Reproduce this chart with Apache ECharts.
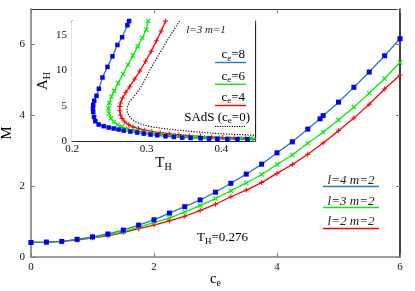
<!DOCTYPE html>
<html><head><meta charset="utf-8">
<script src="https://cdn.jsdelivr.net/npm/echarts@6/dist/echarts.min.js"></script>
<style>html,body{margin:0;padding:0;background:#fff}#c{width:415px;height:291px}</style>
</head><body><div id="c"></div>
<script>
// ---- main chart data: M vs c_e ----
const ceBlue = [0,0.25,0.5,0.75,1,1.25,1.5,1.75,2,2.25,2.5,2.75,3,3.25,3.5,3.75,4,4.25,4.5,4.7,4.75,5,5.25,5.5,5.75,6];
const mL4 = [0.41,0.42,0.44,0.50,0.57,0.65,0.76,0.90,1.05,1.24,1.42,1.61,1.83,2.08,2.34,2.62,2.94,3.25,3.61,3.90,3.99,4.37,4.79,5.22,5.68,6.16];
const ce = [0,0.25,0.5,0.75,1,1.25,1.5,1.75,2,2.25,2.5,2.75,3,3.25,3.5,3.75,4,4.25,4.5,4.75,5,5.25,5.5,5.75,6];
const mL3 = [0.41,0.42,0.44,0.49,0.55,0.62,0.71,0.84,0.97,1.10,1.27,1.45,1.65,1.87,2.09,2.33,2.61,2.88,3.21,3.52,3.87,4.23,4.62,5.04,5.49];
const mL2 = [0.41,0.42,0.44,0.48,0.54,0.60,0.69,0.80,0.90,1.02,1.15,1.31,1.49,1.70,1.89,2.10,2.36,2.61,2.90,3.22,3.56,3.92,4.31,4.74,5.14];
const mainTicksX = [0,2,4,6];
const mainTicksY = [0,2,4,6];

// ---- inset data: A_H vs T_H ----
const tB = [0.2764,0.2742,0.2671,0.2608,0.2542,0.2475,0.2408,0.2360,0.2328,0.2297,0.2284,0.2280,0.2284,0.2295,0.2313,0.2357,0.2424,0.2491,0.2558,0.2625,0.2692,0.2782,0.2872,0.2961,0.3051,0.3141,0.3252,0.3364,0.3476,0.3588,0.3722,0.3834,0.3946,0.4080,0.4215,0.4350,0.4460];
const aB = [17.0,16.4,14.7,13.6,12.0,10.5,9.0,7.4,6.4,5.7,5.1,4.6,4.1,3.4,2.8,2.34,2.10,1.91,1.77,1.63,1.48,1.34,1.20,1.05,0.91,0.81,0.67,0.57,0.48,0.43,0.38,0.33,0.30,0.28,0.26,0.25,0.24];
const tG = [0.3020,0.2995,0.2940,0.2880,0.2815,0.2750,0.2683,0.2617,0.2565,0.2528,0.2500,0.2488,0.2495,0.2520,0.2560,0.2610,0.2670,0.2750,0.2850,0.2960,0.3080,0.3220,0.3360,0.3500,0.3650,0.3800,0.3950,0.4100,0.4250,0.4400,0.4460];
const aG = [17.0,15.8,14.6,13.4,12.1,10.8,9.5,8.2,7.1,6.3,5.4,4.6,3.9,3.2,2.7,2.3,2.0,1.72,1.47,1.25,1.08,0.92,0.78,0.67,0.57,0.50,0.44,0.40,0.37,0.34,0.33];
const tR = [0.3253,0.3195,0.3130,0.3060,0.2985,0.2907,0.2840,0.2773,0.2720,0.2675,0.2650,0.2640,0.2640,0.2648,0.2670,0.2707,0.2760,0.2817,0.2890,0.2973,0.3070,0.3180,0.3300,0.3430,0.3570,0.3720,0.3870,0.4020,0.4170,0.4320,0.4460];
const aR = [17.0,15.6,14.2,12.7,11.3,9.9,8.8,7.7,6.9,6.1,5.4,4.9,4.3,3.7,3.2,2.7,2.3,2.0,1.75,1.53,1.35,1.18,1.03,0.88,0.76,0.66,0.57,0.50,0.45,0.41,0.38];
const tS = [0.3440,0.3350,0.3250,0.3150,0.3050,0.2973,0.2900,0.2830,0.2773,0.2740,0.2738,0.2760,0.2800,0.2860,0.2920,0.3000,0.3090,0.3200,0.3364,0.3520,0.3678,0.3850,0.4035,0.4250,0.4460];
const aS = [17.0,15.5,13.8,12.0,10.2,8.6,7.3,6.3,5.6,4.9,4.2,3.6,3.1,2.7,2.4,2.15,1.95,1.8,1.6,1.43,1.29,1.13,1.0,0.9,0.81];
const insetTicksX = [0.2,0.3,0.4];
const insetTicksY = [0,5,10,15];

const zip = (xs, ys) => xs.map((x, i) => [x, ys[i]]);
const SERIF = 'Liberation Serif';
const BLUE_LINE = '#2a7ab8', BLUE_MK = '#0000ff', GREEN = '#00ee00', RED = '#ff0000';
const PLUS = 'path://M0,4H10V6H0Z M4,0H6V10H4Z';

const chart = echarts.init(document.getElementById('c'), null, {renderer: 'canvas'});

function near(v, arr) { return arr.some(t => Math.abs(t - v) < 1e-6); }

const tickStyle = (color) => ({show: true, inside: true, length: 4, lineStyle: {color: color, width: 1}});
const subRich = (big, small) => ({
  a: {fontFamily: SERIF, fontSize: big, color: '#000'},
  b: {fontFamily: SERIF, fontSize: small, color: '#000', padding: [Math.round(big*0.55), 0, 0, 0]}
});

function lineSeries(name, data, xi, lineColor, mkColor, symbol, size, rotate) {
  return {
    type: 'line', name, data, xAxisIndex: xi, yAxisIndex: xi,
    symbol, symbolSize: size, symbolRotate: rotate || 0, showSymbol: true, showAllSymbol: true,
    lineStyle: {color: lineColor, width: 1.3}, itemStyle: {color: mkColor, borderWidth: 0},
    animation: false, silent: true, z: 3
  };
}
const line0 = (color, width) => ({show: true, onZero: false, lineStyle: {color, width}});

const option = {
  animation: false,
  backgroundColor: '#fff',
  grid: [
    {left: 31, right: 15, top: 9, bottom: 34, show: false, outerBoundsMode: 'none', containLabel: false},
    {left: 72, right: 160, top: 21, bottom: 150, show: true, backgroundColor: '#fff', borderWidth: 0, z: 1, outerBoundsMode: 'none', containLabel: false}
  ],
  xAxis: [
    {type: 'value', gridIndex: 0, position: 'bottom', min: 0, max: 6, interval: 2,
     axisLine: line0('#808080', 1.6), axisTick: tickStyle('#808080'),
     splitLine: {show: false},
     axisLabel: {fontFamily: SERIF, fontSize: 11, color: '#111', margin: 5, formatter: v => near(v, mainTicksX) ? String(v) : ''},
     name: '{a|c}{b|e}', nameLocation: 'middle', nameGap: 13, nameMoveOverlap: false,
     nameTextStyle: {fontFamily: SERIF, fontSize: 15, rich: subRich(15, 10)}},
    {type: 'value', gridIndex: 0, position: 'top', min: 0, max: 6, interval: 2,
     axisLine: line0('#333', 1.2), axisTick: tickStyle('#808080'),
     splitLine: {show: false}, axisLabel: {show: false}},
    {type: 'value', gridIndex: 1, position: 'bottom', min: 0.2, max: 0.445, interval: 0.1,
     axisLine: line0('#222', 1.2), axisTick: tickStyle('#444'),
     splitLine: {show: false},
     axisLabel: {fontFamily: SERIF, fontSize: 11, color: '#111', margin: 3, showMaxLabel: false,
                 formatter: v => near(v, insetTicksX) ? v.toFixed(1) : ''},
     name: '{a|T}{b|H}', nameLocation: 'middle', nameGap: 12,
     nameTextStyle: {fontFamily: SERIF, fontSize: 15, rich: subRich(15, 10)}},
    {type: 'value', gridIndex: 1, position: 'top', min: 0.2, max: 0.445, interval: 0.1,
     axisLine: line0('#222', 1.2), axisTick: tickStyle('#444'),
     splitLine: {show: false}, axisLabel: {show: false}}
  ],
  yAxis: [
    {type: 'value', gridIndex: 0, position: 'left', min: 0, max: 7, interval: 2,
     axisLine: line0('#808080', 1.6), axisTick: tickStyle('#808080'),
     splitLine: {show: false},
     axisLabel: {fontFamily: SERIF, fontSize: 11, color: '#111', margin: 6, showMaxLabel: false,
                 formatter: v => near(v, mainTicksY) ? String(v) : ''},
     name: 'M', nameLocation: 'middle', nameGap: 16, nameMoveOverlap: false,
     nameTextStyle: {fontFamily: SERIF, fontSize: 15, color: '#000'}},
    {type: 'value', gridIndex: 0, position: 'right', min: 0, max: 7, interval: 2,
     axisLine: line0('#111', 1.6), axisTick: tickStyle('#808080'),
     splitLine: {show: false}, axisLabel: {show: false}},
    {type: 'value', gridIndex: 1, position: 'left', min: 0, max: 17, interval: 5,
     axisLine: line0('#777', 1.4), axisTick: tickStyle('#444'),
     splitLine: {show: false},
     axisLabel: {fontFamily: SERIF, fontSize: 11, color: '#111', margin: 5, showMaxLabel: false,
                 formatter: v => near(v, insetTicksY) ? String(v) : ''},
     name: '{a|A}{b|H}', nameLocation: 'middle', nameGap: 20,
     nameTextStyle: {fontFamily: SERIF, fontSize: 15, rich: subRich(15, 10)}},
    {type: 'value', gridIndex: 1, position: 'right', min: 0, max: 17, interval: 5,
     axisLine: line0('#222', 1.2), axisTick: tickStyle('#444'),
     splitLine: {show: false}, axisLabel: {show: false}}
  ],
  series: [
    lineSeries('l=2 m=2', zip(ce, mL2), 0, RED, RED, PLUS, 5),
    lineSeries('l=3 m=2', zip(ce, mL3), 0, GREEN, GREEN, PLUS, 6, 45),
    lineSeries('l=4 m=2', zip(ceBlue, mL4), 0, BLUE_LINE, BLUE_MK, 'rect', 5),
    {type: 'line', name: 'SAdS', data: zip(tS, aS), xAxisIndex: 2, yAxisIndex: 2, symbol: 'none',
     lineStyle: {color: '#000', width: 1.1, type: [1.2, 1.5]}, animation: false, silent: true, z: 3},
    lineSeries('ce=4', zip(tR, aR), 2, RED, RED, PLUS, 5),
    lineSeries('ce=6', zip(tG, aG), 2, GREEN, GREEN, PLUS, 6, 45),
    lineSeries('ce=8', zip(tB, aB), 2, BLUE_LINE, BLUE_MK, 'rect', 4.5)
  ],
  graphic: [
    // main legend
    {type: 'text', style: {text: 'l=4 m=2', x: 351, y: 181, align: 'center', verticalAlign: 'middle', font: 'italic 13px "Liberation Serif"', fill: '#222'}},
    {type: 'line', shape: {x1: 323, y1: 186.5, x2: 379, y2: 186.5}, style: {stroke: BLUE_LINE, lineWidth: 1.6}},
    {type: 'text', style: {text: 'l=3 m=2', x: 351, y: 201.5, align: 'center', verticalAlign: 'middle', font: 'italic 13px "Liberation Serif"', fill: '#222'}},
    {type: 'line', shape: {x1: 323, y1: 207.5, x2: 379, y2: 207.5}, style: {stroke: GREEN, lineWidth: 1.6}},
    {type: 'text', style: {text: 'l=2 m=2', x: 351, y: 222, align: 'center', verticalAlign: 'middle', font: 'italic 13px "Liberation Serif"', fill: '#222'}},
    {type: 'line', shape: {x1: 323, y1: 228.5, x2: 379, y2: 228.5}, style: {stroke: RED, lineWidth: 1.6}},
    {type: 'text', style: {text: '{a|T}{b|H}{a|=0.276}', x: 197, y: 238, align: 'left', verticalAlign: 'middle', rich: subRich(13, 9)}},
    // inset legend
    {type: 'text', z: 10, style: {text: 'l=3 m=1', x: 206, y: 30, align: 'center', verticalAlign: 'middle', font: 'italic 11px "Liberation Serif"', fill: '#222'}},
    {type: 'text', z: 10, style: {text: '{a|c}{b|e}{a|=8}', x: 245, y: 55, align: 'right', verticalAlign: 'middle', rich: subRich(13, 9)}},
    {type: 'line', z: 10, shape: {x1: 215, y1: 62.5, x2: 246, y2: 62.5}, style: {stroke: BLUE_LINE, lineWidth: 1.4}},
    {type: 'text', z: 10, style: {text: '{a|c}{b|e}{a|=6}', x: 245, y: 76.5, align: 'right', verticalAlign: 'middle', rich: subRich(13, 9)}},
    {type: 'line', z: 10, shape: {x1: 215, y1: 84.3, x2: 246, y2: 84.3}, style: {stroke: GREEN, lineWidth: 1.4}},
    {type: 'text', z: 10, style: {text: '{a|c}{b|e}{a|=4}', x: 245, y: 97.5, align: 'right', verticalAlign: 'middle', rich: subRich(13, 9)}},
    {type: 'line', z: 10, shape: {x1: 215, y1: 105.5, x2: 246, y2: 105.5}, style: {stroke: RED, lineWidth: 1.4}},
    {type: 'text', z: 10, style: {text: '{a|SAdS (c}{b|e}{a|=0)}', x: 250, y: 117.5, align: 'right', verticalAlign: 'middle', rich: subRich(13, 9)}},
    {type: 'line', z: 10, shape: {x1: 215, y1: 126.5, x2: 245, y2: 126.5}, style: {stroke: '#000', lineWidth: 1.2, lineDash: [1.2, 1.2]}}
  ]
};
chart.setOption(option);
</script>
</body></html>
